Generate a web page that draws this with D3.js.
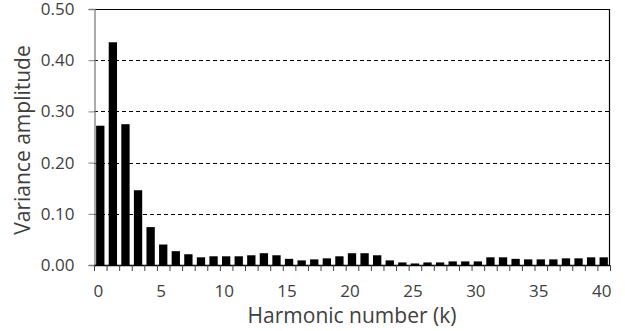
<!DOCTYPE html>
<html>
<head>
<meta charset="utf-8">
<script src="https://cdn.jsdelivr.net/npm/d3@7/dist/d3.min.js"></script>
<style>
  html, body { margin: 0; padding: 0; background: #fff; }
  svg { display: block; }
  text { font-family: "Open Sans", "Noto Sans", sans-serif; fill: #404040; }
</style>
</head>
<body>
<svg id="chart" width="625" height="331"></svg>
<script>
// Harmonic numbers k = 0..40
const harmonics = d3.range(0, 41);
// Variance amplitude for each harmonic
const amplitudes = [
  0.272, 0.435, 0.275, 0.146, 0.074, 0.040, 0.027, 0.021, 0.015, 0.017,
  0.017, 0.017, 0.019, 0.023, 0.019, 0.012, 0.009, 0.011, 0.013, 0.017,
  0.023, 0.023, 0.019, 0.009, 0.005, 0.003, 0.005, 0.005, 0.007, 0.007,
  0.007, 0.015, 0.015, 0.012, 0.011, 0.011, 0.011, 0.013, 0.013, 0.015,
  0.015
];
const yTicks = [0, 0.1, 0.2, 0.3, 0.4, 0.5];
const xTickLabels = [0, 5, 10, 15, 20, 25, 30, 35, 40];
const xTitle = "Harmonic number (k)";
const yTitle = "Variance amplitude";

const margin = { top: 9, right: 15, bottom: 66, left: 94 };
const W = 625, H = 331;
const iw = W - margin.left - margin.right;
const ih = H - margin.top - margin.bottom;

const svg = d3.select("#chart");
const g = svg.append("g").attr("transform", `translate(${margin.left},${margin.top})`);

const x = d3.scaleBand().domain(harmonics).range([0, iw]).paddingInner(0.34).paddingOuter(0.17);
const xEdge = d3.scaleBand().domain(harmonics).range([0, iw]);
const y = d3.scaleLinear().domain([0, 0.5]).range([ih, 0]);

// dashed gridlines
g.append("g").selectAll("line")
  .data(yTicks.filter(v => v > 0 && v < 0.5))
  .join("line")
  .attr("x1", 0).attr("x2", iw)
  .attr("y1", d => Math.round(y(d)) + 0.5).attr("y2", d => Math.round(y(d)) + 0.5)
  .attr("stroke", "#000").attr("stroke-width", 1)
  .attr("stroke-dasharray", "4,3");

// bars
g.append("g").selectAll("rect")
  .data(harmonics)
  .join("rect")
  .attr("x", d => x(d))
  .attr("width", x.bandwidth())
  .attr("y", d => y(amplitudes[d]))
  .attr("height", d => y(0) - y(amplitudes[d]))
  .attr("fill", "#000");

// frame: top and right border
g.append("line").attr("x1", 0).attr("x2", iw).attr("y1", 0.5).attr("y2", 0.5)
  .attr("stroke", "#000").attr("stroke-width", 1.2);
g.append("line").attr("x1", iw - 0.5).attr("x2", iw - 0.5).attr("y1", 0).attr("y2", ih)
  .attr("stroke", "#000").attr("stroke-width", 1.2);

// y axis
const yAxis = d3.axisLeft(y).tickValues(yTicks).tickFormat(d3.format(".2f")).tickSize(6).tickPadding(14);
const ya = g.append("g").attr("transform", "translate(0.5,0)").call(yAxis);
ya.select(".domain").attr("stroke", "#7f7f7f").attr("stroke-width", 1.3);
ya.selectAll(".tick line").attr("stroke", "#7f7f7f");
ya.selectAll("text").style("font-size", "17px").attr("fill", "#404040");

// x axis: tick marks on category boundaries, labels every 5
const xa = g.append("g").attr("transform", `translate(0,${ih})`);
xa.append("line").attr("x1", 0).attr("x2", iw).attr("y1", 0.5).attr("y2", 0.5)
  .attr("stroke", "#000").attr("stroke-width", 1.3);
xa.selectAll("line.tk")
  .data(harmonics.concat([41]))
  .join("line").attr("class", "tk")
  .attr("x1", d => (d < 41 ? xEdge(d) : iw) + 0.5)
  .attr("x2", d => (d < 41 ? xEdge(d) : iw) + 0.5)
  .attr("y1", 0).attr("y2", 6)
  .attr("stroke", "#404040").attr("stroke-width", 1);
xa.selectAll("text.lbl")
  .data(xTickLabels)
  .join("text").attr("class", "lbl")
  .attr("x", d => x(d) + x.bandwidth() / 2 - 2)
  .attr("y", 32)
  .attr("text-anchor", "middle")
  .style("font-size", "17px")
  .text(d => d);

// axis titles
svg.append("text")
  .attr("x", margin.left + iw / 2)
  .attr("y", 323)
  .attr("text-anchor", "middle")
  .style("font-size", "21px")
  .text(xTitle);

svg.append("text")
  .attr("transform", `translate(30,140) rotate(-90)`)
  .attr("text-anchor", "middle")
  .style("font-size", "21px")
  .text(yTitle);
</script>
</body>
</html>
